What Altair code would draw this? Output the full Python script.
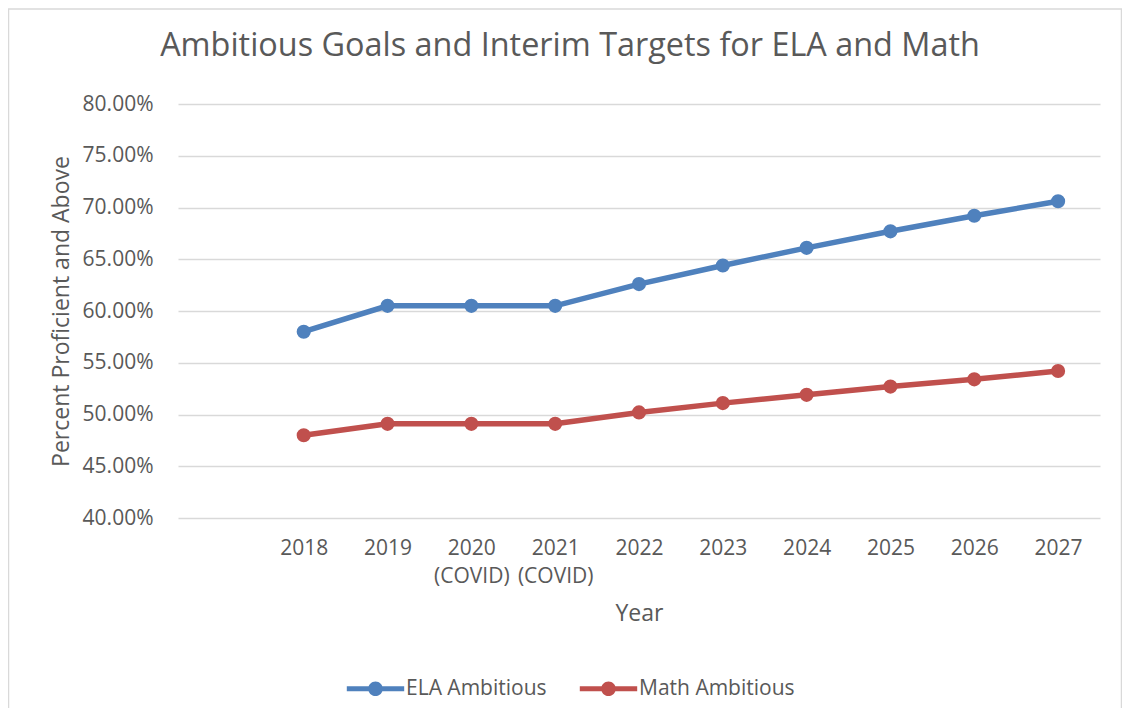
import altair as alt
import pandas as pd

years = ["2018", "2019", "2020 (COVID)", "2021 (COVID)", "2022", "2023",
         "2024", "2025", "2026", "2027"]
ela_ambitious = [58.0, 60.5, 60.5, 60.5, 62.6, 64.4, 66.1, 67.7, 69.2, 70.6]
math_ambitious = [48.0, 49.1, 49.1, 49.1, 50.2, 51.1, 51.9, 52.7, 53.4, 54.2]
series_names = ["ELA Ambitious", "Math Ambitious"]
series_colors = ["#4f81bd", "#c0504d"]
y_ticks = [40, 45, 50, 55, 60, 65, 70, 75, 80]

rows = []
for y, v in zip(years, ela_ambitious):
    rows.append({"Year": y, "Series": series_names[0], "Value": v / 100})
for y, v in zip(years, math_ambitious):
    rows.append({"Year": y, "Series": series_names[1], "Value": v / 100})
df = pd.DataFrame(rows)

FONT = "Open Sans"
GREY = "#595959"

x_enc = alt.X(
    "Year:N",
    sort=None,
    scale=alt.Scale(domain=[""] + years, padding=0.5),
    axis=alt.Axis(
        title="Year",
        labelExpr="split(datum.label, ' ')",
        labelAngle=0,
        labelFontSize=21,
        labelColor=GREY,
        labelFont=FONT,
        labelLineHeight=28,
        labelPadding=19,
        ticks=False,
        domain=False,
        grid=False,
        titleFontSize=23,
        titleFont=FONT,
        titleColor=GREY,
        titleFontWeight="normal",
        titlePadding=16,
    ),
)
y_enc = alt.Y(
    "Value:Q",
    scale=alt.Scale(domain=[0.40, 0.80], nice=False, zero=False),
    axis=alt.Axis(
        title="Percent Proficient and Above",
        values=[t / 100 for t in y_ticks],
        format=".2%",
        labelFontSize=21,
        labelColor=GREY,
        labelFont=FONT,
        labelPadding=25,
        ticks=False,
        domain=False,
        gridColor="#d9d9d9",
        gridWidth=1.3,
        titleFontSize=23,
        titleFont=FONT,
        titleColor=GREY,
        titleFontWeight="normal",
        titleX=-110,
        titleY=207,
        titleAlign="center",
        titleBaseline="alphabetic",
    ),
)
color_scale = alt.Scale(domain=series_names, range=series_colors)

legend_path = ("M-4.1,-0.36 L-0.8,-0.36 L-0.8,0.36 L-4.1,0.36 Z "
               "M0.8,-0.36 L4.1,-0.36 L4.1,0.36 L0.8,0.36 Z "
               "M-1.05,0 A1.05,1.05 0 1,1 1.05,0 A1.05,1.05 0 1,1 -1.05,0 Z")

legend = alt.Legend(
    title=None, orient="none", direction="horizontal",
    legendX=187, legendY=574,
    symbolType=legend_path, symbolSize=196, symbolStrokeWidth=0,
    symbolOpacity=1,
    labelOffset=20, columnPadding=32, padding=0,
    labelFontSize=21, labelFont=FONT, labelColor=GREY,
)

base = alt.Chart(df)
lines = base.mark_line(strokeWidth=5.5, strokeCap="round").encode(
    x=x_enc, y=y_enc,
    color=alt.Color("Series:N", scale=color_scale, legend=legend),
)
points = base.mark_point(filled=True, size=200, opacity=1).encode(
    x=x_enc, y=y_enc,
    color=alt.Color("Series:N", scale=color_scale, legend=legend),
)
border = alt.Chart(pd.DataFrame({"a": [0]})).mark_rect(
    fill=None, stroke="#d9d9d9", strokeWidth=1.5, clip=False
).encode(
    x=alt.value(-169.5), x2=alt.value(943.5), y=alt.value(-95), y2=alt.value(640)
)

chart = alt.layer(border, lines, points).properties(
    width=922,
    height=414,
    padding={"left": 170, "top": 96, "right": 22, "bottom": 190},
    autosize=alt.AutoSizeParams(type="none"),
    title=alt.TitleParams(
        "Ambitious Goals and Interim Targets for ELA and Math",
        fontSize=32.4, font=FONT, color=GREY, fontWeight="normal",
        anchor="middle", dx=-69, offset=-80, baseline="alphabetic",
    ),
).configure_view(stroke=None)

chart.save("out.html", embed_options={"renderer": "svg", "actions": False})
